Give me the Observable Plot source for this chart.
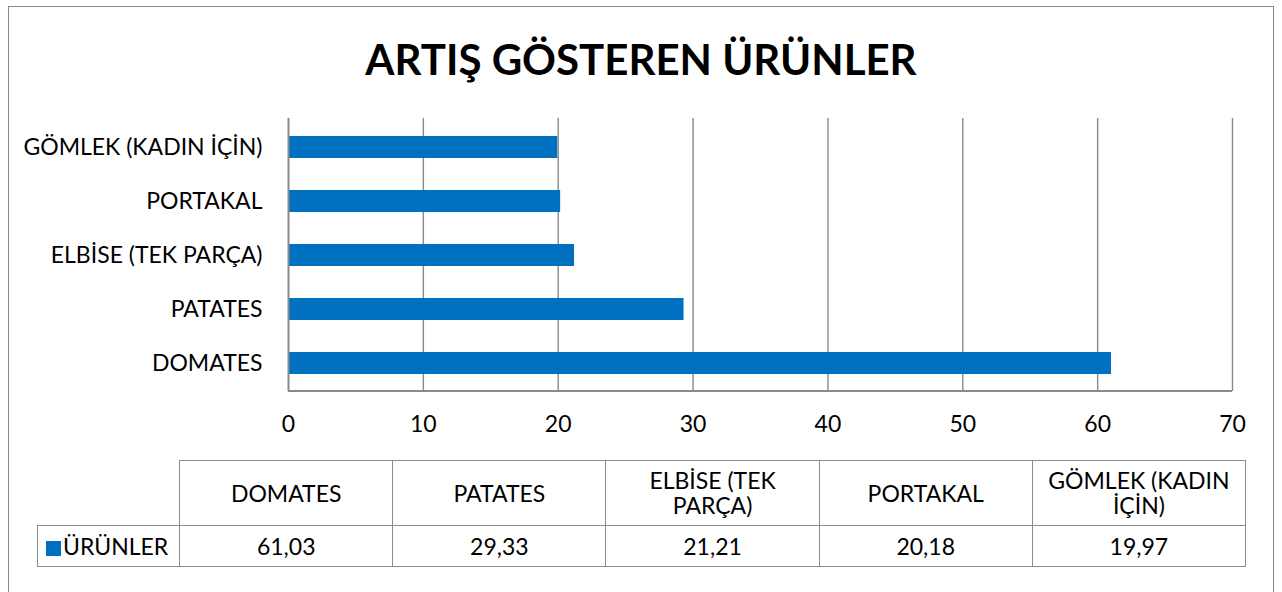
<!DOCTYPE html>
<html>
<head>
<meta charset="utf-8">
<script src="https://cdn.jsdelivr.net/npm/d3@7"></script>
<script src="https://cdn.jsdelivr.net/npm/@observablehq/plot@0.6"></script>
<style>
  html, body { margin: 0; padding: 0; background: #fff; }
  #wrap { position: relative; width: 1282px; height: 592px; overflow: hidden; font-family: Lato, "Open Sans", sans-serif; color: #000; }
  #border { position: absolute; left: 8px; top: 6px; width: 1266px; height: 620px; border: 1.5px solid #888; box-sizing: border-box; }
  #title { position: absolute; left: 0; top: 31px; width: 1282px; text-align: center; font-weight: 700; font-size: 42px; line-height: 56px; }
  #chart { position: absolute; left: 0; top: 0; }
  #tbl { position: absolute; left: 37px; top: 460px; width: 1209px; table-layout: fixed; border-collapse: collapse; font-size: 23px; }
  #tbl td { border: 1.5px solid #8c8c8c; text-align: center; padding: 0 12px; line-height: 25px; overflow: hidden; }
  #tbl td.blank { border-top: none; border-left: none; }
  #tbl .head td { height: 64px; }
  #tbl .vals td { height: 40px; }
  #tbl td.legend { padding: 0 0 0 8px; text-align: left; white-space: nowrap; }
  .sw { display: inline-block; width: 15px; height: 15px; background: #0070C0; margin-right: 2px; vertical-align: -1px; }
</style>
</head>
<body>
<div id="wrap">
  <div id="border"></div>
  <div id="chart"></div>
  <div id="title">ARTIŞ GÖSTEREN ÜRÜNLER</div>
  <table id="tbl"><colgroup><col style="width:142px"><col style="width:213px"><col style="width:213px"><col style="width:213px"><col style="width:213px"><col style="width:213px"></colgroup></table>
</div>
<script>
const categories = ["DOMATES", "PATATES", "ELBİSE (TEK PARÇA)", "PORTAKAL", "GÖMLEK (KADIN İÇİN)"];
const values = [61.03, 29.33, 21.21, 20.18, 19.97];
const valueLabels = ["61,03", "29,33", "21,21", "20,18", "19,97"];
const seriesName = "ÜRÜNLER";
const xTicks = [0, 10, 20, 30, 40, 50, 60, 70];

const data = categories.map((c, i) => ({name: c, value: values[i]}));
const gridColor = "#8a8a8a";

const bottomLine = (index, scales, vals, dims) => {
  const g = d3.create("svg:line")
    .attr("x1", scales.x(0)).attr("x2", scales.x(70))
    .attr("y1", dims.height - dims.marginBottom).attr("y2", dims.height - dims.marginBottom)
    .attr("stroke", gridColor).attr("stroke-width", 2);
  return g.node();
};

const chart = Plot.plot({
  width: 1282,
  height: 445,
  marginLeft: 288,
  marginRight: 50,
  marginTop: 118,
  marginBottom: 54,
  style: {fontFamily: "Lato, 'Open Sans', sans-serif", fontSize: "23px", color: "#000", background: "transparent"},
  x: {domain: [0, 70], ticks: xTicks, tickSize: 0, tickPadding: 24, label: null, tickFormat: d => String(d)},
  y: {domain: categories.slice().reverse(), paddingInner: 0.6, paddingOuter: 0.3, tickSize: 0, tickPadding: 26, label: null},
  marks: [
    Plot.ruleX(xTicks.filter(d => d > 0), {stroke: gridColor, strokeWidth: 1.4}),
    Plot.barX(data, {x: "value", y: "name", fill: "#0070C0"}),
    Plot.ruleX([0], {stroke: gridColor, strokeWidth: 2}),
    bottomLine
  ]
});
document.getElementById("chart").appendChild(chart);

const tbl = d3.select("#tbl");
const head = tbl.append("tr").attr("class", "head");
head.append("td").attr("class", "blank");
head.selectAll("td.c").data(categories).join("td").attr("class", "c").text(d => d);
const row = tbl.append("tr").attr("class", "vals");
const lg = row.append("td").attr("class", "legend");
lg.append("span").attr("class", "sw");
lg.append("span").text(seriesName);
row.selectAll("td.v").data(valueLabels).join("td").attr("class", "v").text(d => d);
</script>
</body>
</html>
